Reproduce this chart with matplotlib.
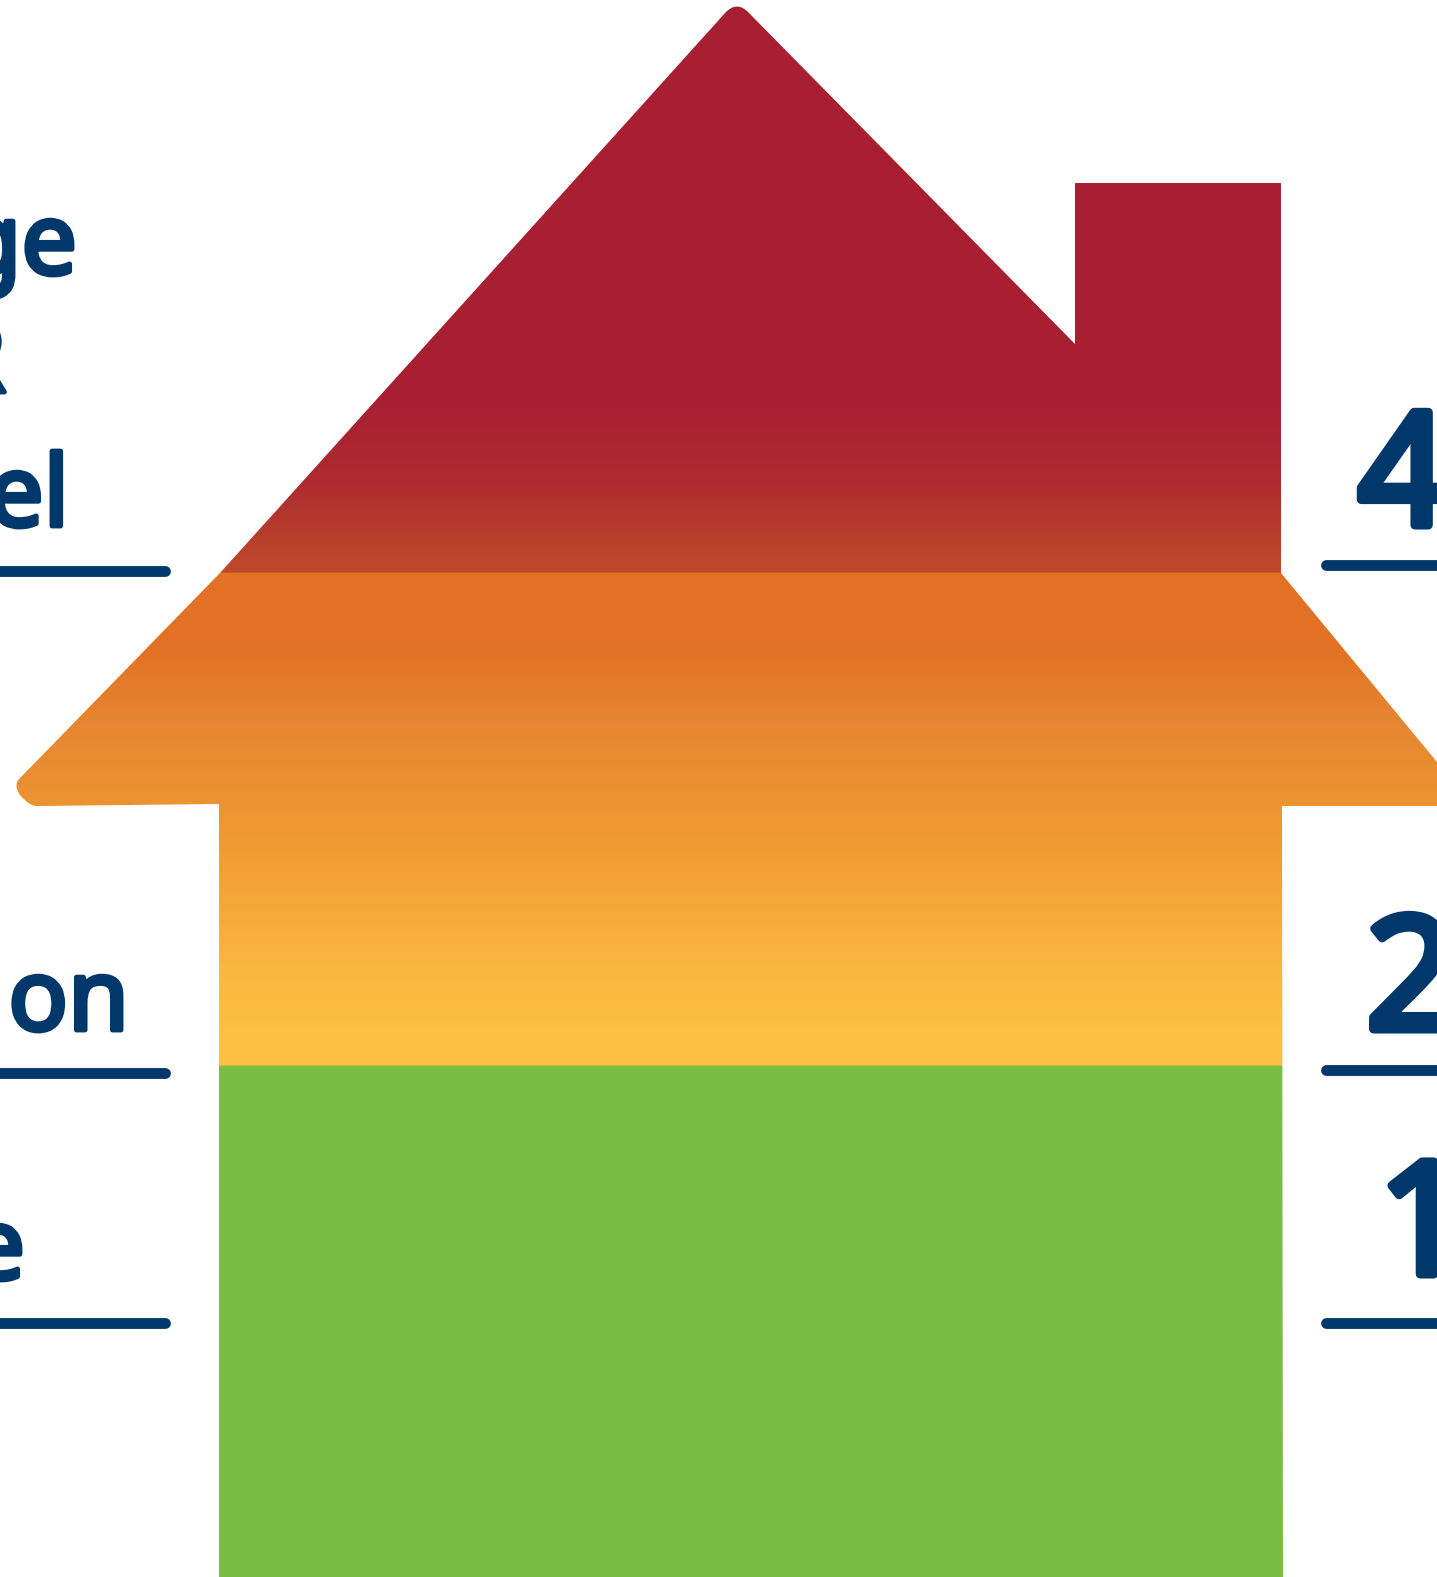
import numpy as np
import matplotlib
matplotlib.use("Agg")
import matplotlib.pyplot as plt
import matplotlib.patheffects as pe
from matplotlib.path import Path
from matplotlib.patches import PathPatch
from matplotlib.colors import LinearSegmentedColormap

W, H = 1437, 1577
NAVY = "#00386B"

# Gradient stops along the house: (pixel height, colour)
stop_y = [0, 400, 480, 572, 573, 650, 720, 850, 975, 1030, 1065, 1066, 1577]
stop_c = ["#A81F32", "#A81F32", "#AD2B2F", "#BE4A2A", "#E27025", "#E27225", "#E68530",
          "#F09C33", "#FBB83F", "#FDBF40", "#FDBF40", "#7ABD45", "#7ABD45"]

# Thresholds
right_labels = ["4", "2", "1"]
right_label_x = [1358, 1366, 1378]
right_label_base = [525, 1029, 1274]
right_line_y = [565, 1070, 1323]
left_line_y = [571, 1073, 1323]

# Left labels: the parts that the crop of the picture leaves visible
left_labels = ["ge", "R", "el", "on", "e"]
left_label_x = [77, 6, 69, 129, 25]
left_label_base = [274, 392, 526, 1030, 1279]

fig = plt.figure(figsize=(W / 100, H / 100), dpi=100, facecolor="white")
ax = fig.add_axes([0, 0, 1, 1])
ax.set_xlim(0, W)
ax.set_ylim(H, 0)
ax.axis("off")

M, L, Q = Path.MOVETO, Path.LINETO, Path.CURVE3
house = [
    (M, (726, 12)), (Q, (737, 1)), (Q, (748, 12)),
    (L, (1075, 344)), (L, (1075, 183)), (L, (1281, 183)), (L, (1281, 573)),
    (L, (1437, 762)), (L, (1437, 806)), (L, (1282, 806)), (L, (1283, 1577)),
    (L, (219, 1577)), (L, (219, 804)), (L, (38, 806)),
    (Q, (30, 807)), (Q, (20, 795)), (Q, (12, 784)), (Q, (22, 776)),
    (L, (220, 573)), (L, (726, 12)),
]
codes = [c for c, _ in house]
verts = [v for _, v in house]
clip = PathPatch(Path(verts, codes), facecolor="none", edgecolor="none", transform=ax.transData)
ax.add_patch(clip)

cmap = LinearSegmentedColormap.from_list(
    "house", [(y / H, c) for y, c in zip(stop_y, stop_c)], N=2048)
grad = np.linspace(0, 1, H).reshape(-1, 1)
im = ax.imshow(grad, cmap=cmap, vmin=0, vmax=1, extent=(0, W, H, 0), aspect="auto",
               interpolation="nearest")
im.set_clip_path(clip)
ax.set_xlim(0, W)
ax.set_ylim(H, 0)

for y in left_line_y:
    ax.plot([-20, 165], [y, y], color=NAVY, lw=7.8, solid_capstyle="round")
for y in right_line_y:
    ax.plot([1326, W + 20], [y, y], color=NAVY, lw=7.8, solid_capstyle="round")

for s, x, y in zip(left_labels, left_label_x, left_label_base):
    ax.text(x, y, s, ha="right", va="baseline", color=NAVY, fontsize=71, family="Noto Sans",
            clip_on=False,
            path_effects=[pe.withStroke(linewidth=3.5, foreground=NAVY, capstyle="round", joinstyle="round")])
for s, x, y in zip(right_labels, right_label_x, right_label_base):
    ax.text(x, y, s, ha="left", va="baseline", color=NAVY, fontsize=113, family="Noto Sans",
            clip_on=False,
            path_effects=[pe.withStroke(linewidth=6.5, foreground=NAVY, capstyle="round", joinstyle="round")])

fig.savefig("out.png", dpi=100, facecolor="white")
